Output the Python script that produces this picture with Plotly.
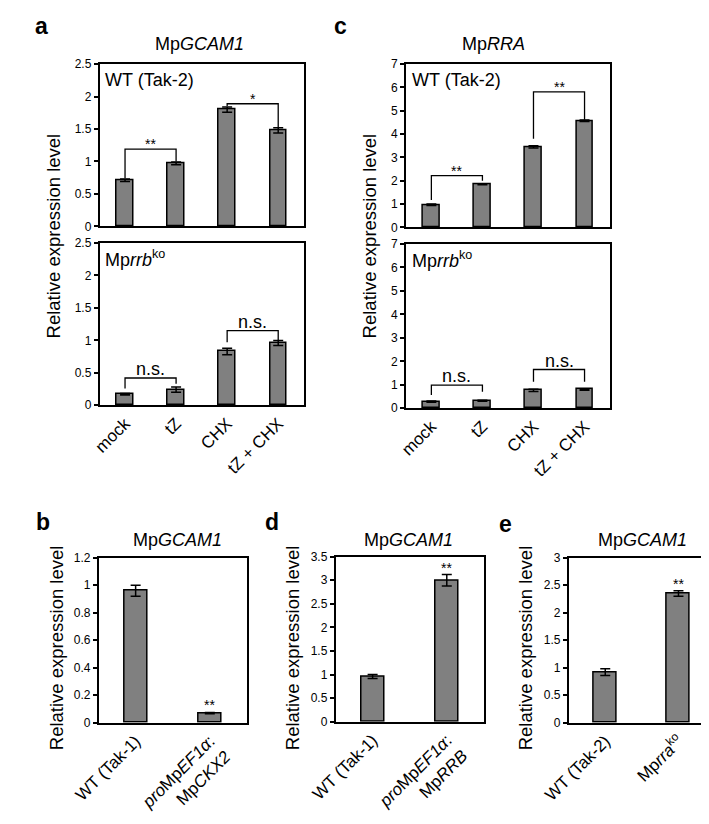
import plotly.graph_objects as go

W, H = 709, 824
FONT = "Liberation Sans, Arial, Helvetica, sans-serif"

# ---------------- data ----------------
treat_cats = ["mock", "tZ", "CHX", "tZ + CHX"]

a_wt_vals = [0.71, 0.97, 1.80, 1.48]
a_wt_err = [0.02, 0.02, 0.04, 0.04]
a_ko_vals = [0.17, 0.24, 0.83, 0.96]
a_ko_err = [0.01, 0.04, 0.05, 0.04]

c_wt_vals = [0.97, 1.85, 3.45, 4.57]
c_wt_err = [0.03, 0.02, 0.05, 0.03]
c_ko_vals = [0.28, 0.32, 0.76, 0.80]
c_ko_err = [0.03, 0.02, 0.05, 0.03]

b_cats = ["WT (Tak-1)", "<i>pro</i>Mp<i>EF1α</i>:<br>Mp<i>CKX2</i>"]
b_vals = [0.96, 0.07]
b_err = [0.04, 0.005]

d_cats = ["WT (Tak-1)", "<i>pro</i>Mp<i>EF1α</i>:<br>Mp<i>RRB</i>"]
d_vals = [0.96, 3.00]
d_err = [0.04, 0.12]

e_cats = ["WT (Tak-2)", "Mp<i>rra</i><sup>ko</sup>"]
e_vals = [0.92, 2.35]
e_err = [0.06, 0.05]

# brackets: (left bar, right bar, label, top, left leg bottom, right leg bottom)
a_wt_brackets = [(0, 1, "**", 1.19, 0.74, 1.00), (2, 3, "*", 1.89, 1.85, 1.53)]
a_ko_brackets = [(0, 1, "n.s.", 0.42, 0.26, 0.33), (2, 3, "n.s.", 1.15, 0.97, 1.00)]
c_wt_brackets = [(0, 1, "**", 2.22, 1.17, 2.00), (2, 3, "**", 5.81, 3.80, 4.61)]
c_ko_brackets = [(0, 1, "n.s.", 0.98, 0.56, 0.70), (2, 3, "n.s.", 1.65, 1.13, 1.13)]

# single-bar significance marks: (bar index, label)
b_marks = [(1, "**")]
d_marks = [(1, "**")]
e_marks = [(1, "**")]


def px_x(x):
    return x / W


def px_y(y):
    return 1 - y / H


panels = [
    dict(x=(68, 280), y=(50, 215), yr=2.5, dt=0.5, cats=treat_cats, vals=a_wt_vals, err=a_wt_err,
         showx=False, br=a_wt_brackets, marks=[], inner="WT (Tak-2)", bw=0.32),
    dict(x=(68, 280), y=(232, 397), yr=2.5, dt=0.5, cats=treat_cats, vals=a_ko_vals, err=a_ko_err,
         showx=True, br=a_ko_brackets, marks=[], inner="Mp<i>rrb</i><sup>ko</sup>", bw=0.32),
    dict(x=(386, 598), y=(50, 216), yr=7, dt=1, cats=treat_cats, vals=c_wt_vals, err=c_wt_err,
         showx=False, br=c_wt_brackets, marks=[], inner="WT (Tak-2)", bw=0.32),
    dict(x=(386, 598), y=(233, 400), yr=7, dt=1, cats=treat_cats, vals=c_ko_vals, err=c_ko_err,
         showx=True, br=c_ko_brackets, marks=[], inner="Mp<i>rrb</i><sup>ko</sup>", bw=0.32),
    dict(x=(67, 221), y=(552, 720), yr=1.2, dt=0.2, cats=b_cats, vals=b_vals, err=b_err,
         showx=True, br=[], marks=b_marks, inner=None, bw=0.31),
    dict(x=(313, 467), y=(551, 719), yr=3.5, dt=0.5, cats=d_cats, vals=d_vals, err=d_err,
         showx=True, br=[], marks=d_marks, inner=None, bw=0.31),
    dict(x=(555, 707), y=(552, 720), yr=3.0, dt=0.5, cats=e_cats, vals=e_vals, err=e_err,
         showx=True, br=[], marks=e_marks, inner=None, bw=0.31),
]

fig = go.Figure()
annotations = []
layout = {}

for i, p in enumerate(panels, start=1):
    xa = "x" if i == 1 else f"x{i}"
    ya = "y" if i == 1 else f"y{i}"
    xkey = "xaxis" if i == 1 else f"xaxis{i}"
    ykey = "yaxis" if i == 1 else f"yaxis{i}"
    n = len(p["cats"])
    pos = list(range(n))
    fig.add_trace(go.Bar(
        x=pos, y=p["vals"], width=p["bw"],
        marker=dict(color="#808080", line=dict(color="black", width=1.5)),
        error_y=dict(type="data", array=p["err"], color="black", thickness=1.5, width=5),
        xaxis=xa, yaxis=ya, showlegend=False, hoverinfo="skip",
    ))
    for (l, r, lab, top, lb, rb) in p["br"]:
        fig.add_trace(go.Scatter(
            x=[l, l, r, r], y=[lb, top, top, rb], mode="lines",
            line=dict(color="black", width=1.3), xaxis=xa, yaxis=ya,
            showlegend=False, hoverinfo="skip",
        ))
        is_star = "*" in lab
        annotations.append(dict(
            x=(l + r) / 2, y=top, xref=xa, yref=ya, text=lab, showarrow=False,
            yanchor="bottom", yshift=-5 if is_star else -3,
            font=dict(family=FONT, size=14 if is_star else 18, color="black"),
        ))
    for (k, lab) in p["marks"]:
        annotations.append(dict(
            x=k, y=p["vals"][k] + p["err"][k], xref=xa, yref=ya, text=lab, showarrow=False,
            yanchor="bottom", yshift=-3,
            font=dict(family=FONT, size=14, color="black"),
        ))
    if p["inner"]:
        annotations.append(dict(
            x=px_x(p["x"][0] + 4), y=px_y(p["y"][0] + 16), xref="paper", yref="paper",
            text=p["inner"], showarrow=False, xanchor="left", yanchor="middle",
            font=dict(family=FONT, size=18, color="black"),
        ))
    xaxis = dict(
        domain=[px_x(p["x"][0]), px_x(p["x"][1])], anchor=ya,
        range=[-0.5, n - 0.5], ticks="",
        showline=True, mirror=True, linecolor="black", linewidth=1.5,
        showgrid=False, zeroline=False, fixedrange=True,
    )
    if p["showx"]:
        xaxis.update(tickvals=pos, ticktext=p["cats"], tickangle=-45, showticklabels=True,
                     tickfont=dict(family=FONT, size=17, color="black"))
    else:
        xaxis.update(showticklabels=False, tickvals=[])
    layout[xkey] = xaxis
    layout[ykey] = dict(
        domain=[px_y(p["y"][1]), px_y(p["y"][0])], anchor=xa,
        range=[0, p["yr"]], dtick=p["dt"], tick0=0,
        ticks="outside", ticklen=4, tickwidth=1.5, tickcolor="black",
        showline=True, mirror=True, linecolor="black", linewidth=1.5,
        showgrid=False, zeroline=False, fixedrange=True,
        tickfont=dict(family=FONT, size=12, color="black"),
    )

titles = [
    ("Mp<i>GCAM1</i>", 172, 29),
    ("Mp<i>RRA</i>", 477, 29),
    ("Mp<i>GCAM1</i>", 149, 534),
    ("Mp<i>GCAM1</i>", 389, 534),
    ("Mp<i>GCAM1</i>", 632, 534),
]
for t, x, y in titles:
    annotations.append(dict(x=px_x(x), y=px_y(y), xref="paper", yref="paper", text=t,
                            showarrow=False, xanchor="center", yanchor="middle",
                            font=dict(family=FONT, size=18, color="black")))

letters = [("a", 8, 11), ("c", 318, 11), ("b", 9, 516), ("d", 247, 516), ("e", 489, 518)]
for t, x, y in letters:
    annotations.append(dict(x=px_x(x), y=px_y(y), xref="paper", yref="paper", text=f"<b>{t}</b>",
                            showarrow=False, xanchor="center", yanchor="middle",
                            font=dict(family=FONT, size=23, color="black")))

ytitles = [(20, 225), (348, 225), (23, 644), (268, 644), (510, 644)]
for x, y in ytitles:
    annotations.append(dict(x=px_x(x), y=px_y(y), xref="paper", yref="paper",
                            text="Relative expression level", textangle=-90,
                            showarrow=False, xanchor="center", yanchor="middle",
                            font=dict(family=FONT, size=18.5, color="black")))

fig.update_layout(
    width=W, height=H, margin=dict(l=0, r=0, t=0, b=0),
    paper_bgcolor="white", plot_bgcolor="white",
    showlegend=False, annotations=annotations, bargap=0,
    **layout,
)

fig.write_html("out.html", config={"displayModeBar": False})
